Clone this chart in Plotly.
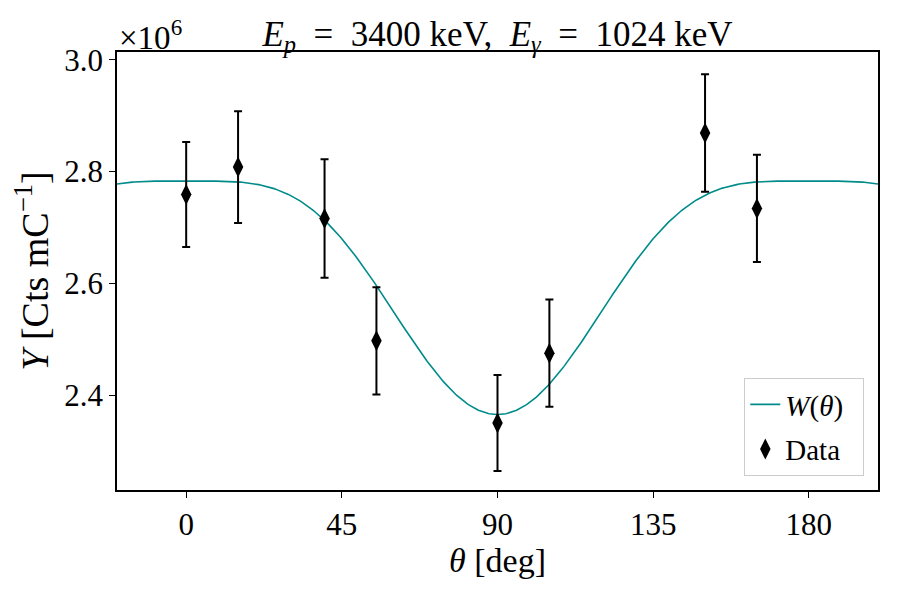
import numpy as np
import plotly.graph_objects as go

# Data (yield in units of 1e6 Cts/mC)
theta_deg = [0, 15, 40, 55, 90, 105, 150, 165]
yield_vals = [2.759, 2.808, 2.716, 2.497, 2.350, 2.475, 2.869, 2.734]
yield_err = [0.094, 0.100, 0.106, 0.096, 0.086, 0.096, 0.105, 0.096]

# Angular distribution fit W(theta) = A (1 + a2 P2 + a4 P4)
fit_A = 2.5607
fit_a2 = 0.1245
fit_a4 = -0.0377

x_tick_vals = [0, 45, 90, 135, 180]
y_tick_vals = [2.4, 2.6, 2.8, 3.0]

th = np.linspace(-20, 200, 500)
c = np.cos(np.radians(th))
P2 = (3 * c**2 - 1) / 2
P4 = (35 * c**4 - 30 * c**2 + 3) / 8
W = fit_A * (1 + fit_a2 * P2 + fit_a4 * P4)

FONT = "Liberation Serif"
sp = "\u2002"

fig = go.Figure()
fig.add_trace(go.Scatter(
    x=th, y=W, mode="lines", name=f"<i>W</i>(<i>θ</i>){sp}",
    line=dict(color="#008b8b", width=1.6), legendgroup="a",
))
fig.add_trace(go.Scatter(
    x=theta_deg, y=yield_vals, mode="markers", name=f"Data{sp}", legendgroup="b",
    marker=dict(symbol="diamond-tall", size=15, color="black"),
    error_y=dict(type="data", array=yield_err, color="black", thickness=2, width=4),
))

fig.update_layout(
    width=900, height=600,
    margin=dict(l=117, r=22, t=52, b=110),
    plot_bgcolor="white", paper_bgcolor="white",
    font=dict(family=FONT, size=31, color="black"),
    title=dict(
        text=f"<i>E</i><sub><i>p</i></sub>{sp}={sp}3400 keV,{sp}<i>E</i><sub><i>γ</i></sub>{sp}={sp}1024 keV",
        x=0.5, xanchor="center", xref="paper",
        y=1, yref="paper", yanchor="bottom", pad=dict(b=6),
        font=dict(family=FONT, size=35),
    ),
    xaxis=dict(
        range=[-20, 200], tickvals=x_tick_vals,
        showline=True, linecolor="black", linewidth=1.5, mirror=True,
        ticks="outside", ticklen=6, tickwidth=1.2, tickcolor="black",
        showgrid=False, zeroline=False,
        title=dict(text="<i>θ</i> [deg]", font=dict(size=34), standoff=6),
    ),
    yaxis=dict(
        range=[2.23, 3.014], tickvals=y_tick_vals, tickformat=".1f",
        showline=True, linecolor="black", linewidth=1.5, mirror=True,
        ticks="outside", ticklen=6, tickwidth=1.2, tickcolor="black",
        showgrid=False, zeroline=False,
        title=dict(text="<i>Y</i> [Cts mC<sup>−1</sup>]", font=dict(size=38), standoff=4),
    ),
    legend=dict(
        x=0.982, y=0.032, xanchor="right", yanchor="bottom",
        bgcolor="rgba(255,255,255,0.8)", bordercolor="#cccccc", borderwidth=1,
        font=dict(family=FONT, size=29), tracegroupgap=4,
    ),
    showlegend=True,
)

fig.add_annotation(
    text="×10<sup>6</sup>", xref="paper", yref="paper", x=0, y=1,
    xanchor="left", yanchor="bottom", showarrow=False, yshift=-6,
    font=dict(family=FONT, size=33),
)

fig.write_html("out.html")
